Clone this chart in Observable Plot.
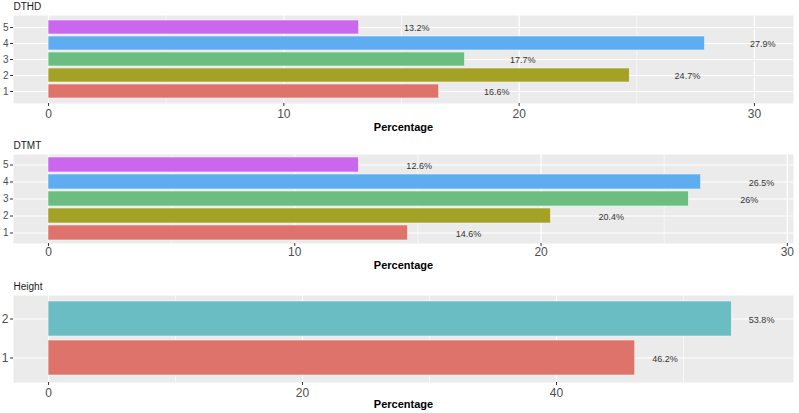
<!DOCTYPE html>
<html>
<head>
<meta charset="utf-8">
<script src="https://cdn.jsdelivr.net/npm/d3@7"></script>
<script src="https://cdn.jsdelivr.net/npm/@observablehq/plot@0.6"></script>
<style>
  html, body { margin: 0; padding: 0; background: #ffffff; }
  #chart { width: 799px; height: 413px; position: relative; overflow: hidden; }
  #chart svg { display: block; }
</style>
</head>
<body>
<div id="chart"></div>
<script>
// ---- Data ----
const dthdCategories = ["1", "2", "3", "4", "5"];
const dthdValues = [16.6, 24.7, 17.7, 27.9, 13.2];

const dtmtCategories = ["1", "2", "3", "4", "5"];
const dtmtValues = [14.6, 20.4, 26, 26.5, 12.6];

const heightCategories = ["1", "2"];
const heightValues = [46.2, 53.8];

const dthdTicks = [0, 10, 20, 30];
const dtmtTicks = [0, 10, 20, 30];
const heightTicks = [0, 20, 40];

const panelTitles = ["DTHD", "DTMT", "Height"];
const axisTitle = "Percentage";

// ---- Colors (ggplot hue palette as rendered) ----
const hue5 = ["#DE736B", "#A3A126", "#6BBE80", "#5FADF1", "#CA67EE"];
const hue2 = ["#DE736B", "#6ABDC2"];

const font = "'Liberation Sans', Arial, sans-serif";

function makePanel({title, cats, values, ticks, domain, colors, height, marginTop, marginBottom, yFont, tickPad, labelDy, nudge}) {
  const data = cats.map((c, i) => ({cat: c, value: values[i], label: values[i] + "%"}));
  const minor = [];
  for (let i = 0; i < ticks.length; i++) {
    const step = ticks[1] - ticks[0];
    const m = ticks[i] + step / 2;
    if (m < domain[1]) minor.push(m);
  }
  return Plot.plot({
    width: 799,
    height,
    marginLeft: 13,
    marginRight: 6,
    marginTop,
    marginBottom,
    style: {fontFamily: font, background: "transparent", overflow: "visible"},
    x: {domain, axis: null},
    y: {domain: cats.slice().reverse(), paddingInner: 0.1, paddingOuter: 0.15, axis: null},
    color: {domain: cats, range: colors},
    marks: [
      Plot.frame({fill: "#EBEBEB", stroke: null}),
      Plot.ruleX(minor, {stroke: "#ffffff", strokeWidth: 0.6}),
      Plot.ruleX(ticks, {stroke: "#ffffff", strokeWidth: 1.2}),
      Plot.gridY({stroke: "#ffffff", strokeOpacity: 1, strokeWidth: 1.2}),
      Plot.barX(data, {x: "value", y: "cat", fill: "cat", stroke: "#f4f4f4", strokeWidth: 0.6}),
      Plot.text(data, {x: d => d.value + nudge, y: "cat", text: "label", fontSize: 9, fill: "#333333", dy: 1}),
      Plot.axisX({ticks, tickSize: 3, tickPadding: tickPad, fontSize: 12, color: "#4D4D4D", stroke: "#333333", label: null, tickFormat: d => String(d)}),
      Plot.axisY({tickSize: 3, tickPadding: 2, fontSize: yFont, color: "#4D4D4D", stroke: "#333333", label: null}),
      Plot.text([title], {frameAnchor: "top-left", dy: -6, lineAnchor: "bottom", textAnchor: "start", fontSize: 10, fill: "#1a1a1a"}),
      Plot.text([axisTitle], {frameAnchor: "bottom", dy: labelDy, lineAnchor: "middle", fontSize: 11, fontWeight: "bold", fill: "#000000"})
    ]
  });
}

const chart = document.getElementById("chart");
chart.append(makePanel({
  title: panelTitles[0], cats: dthdCategories, values: dthdValues, ticks: dthdTicks,
  domain: [-1.49, 31.66], colors: hue5, height: 135, marginTop: 15, marginBottom: 32,
  yFont: 10, tickPad: 3, labelDy: 24, nudge: 2.45
}));
chart.append(makePanel({
  title: panelTitles[1], cats: dtmtCategories, values: dtmtValues, ticks: dtmtTicks,
  domain: [-1.42, 30.25], colors: hue5, height: 140, marginTop: 19, marginBottom: 32,
  yFont: 10, tickPad: 1, labelDy: 22, nudge: 2.45
}));
chart.append(makePanel({
  title: panelTitles[2], cats: heightCategories, values: heightValues, ticks: heightTicks,
  domain: [-2.76, 58.66], colors: hue2, height: 138, marginTop: 20, marginBottom: 31,
  yFont: 12, tickPad: 3, labelDy: 22, nudge: 2.35
}));
</script>
</body>
</html>
